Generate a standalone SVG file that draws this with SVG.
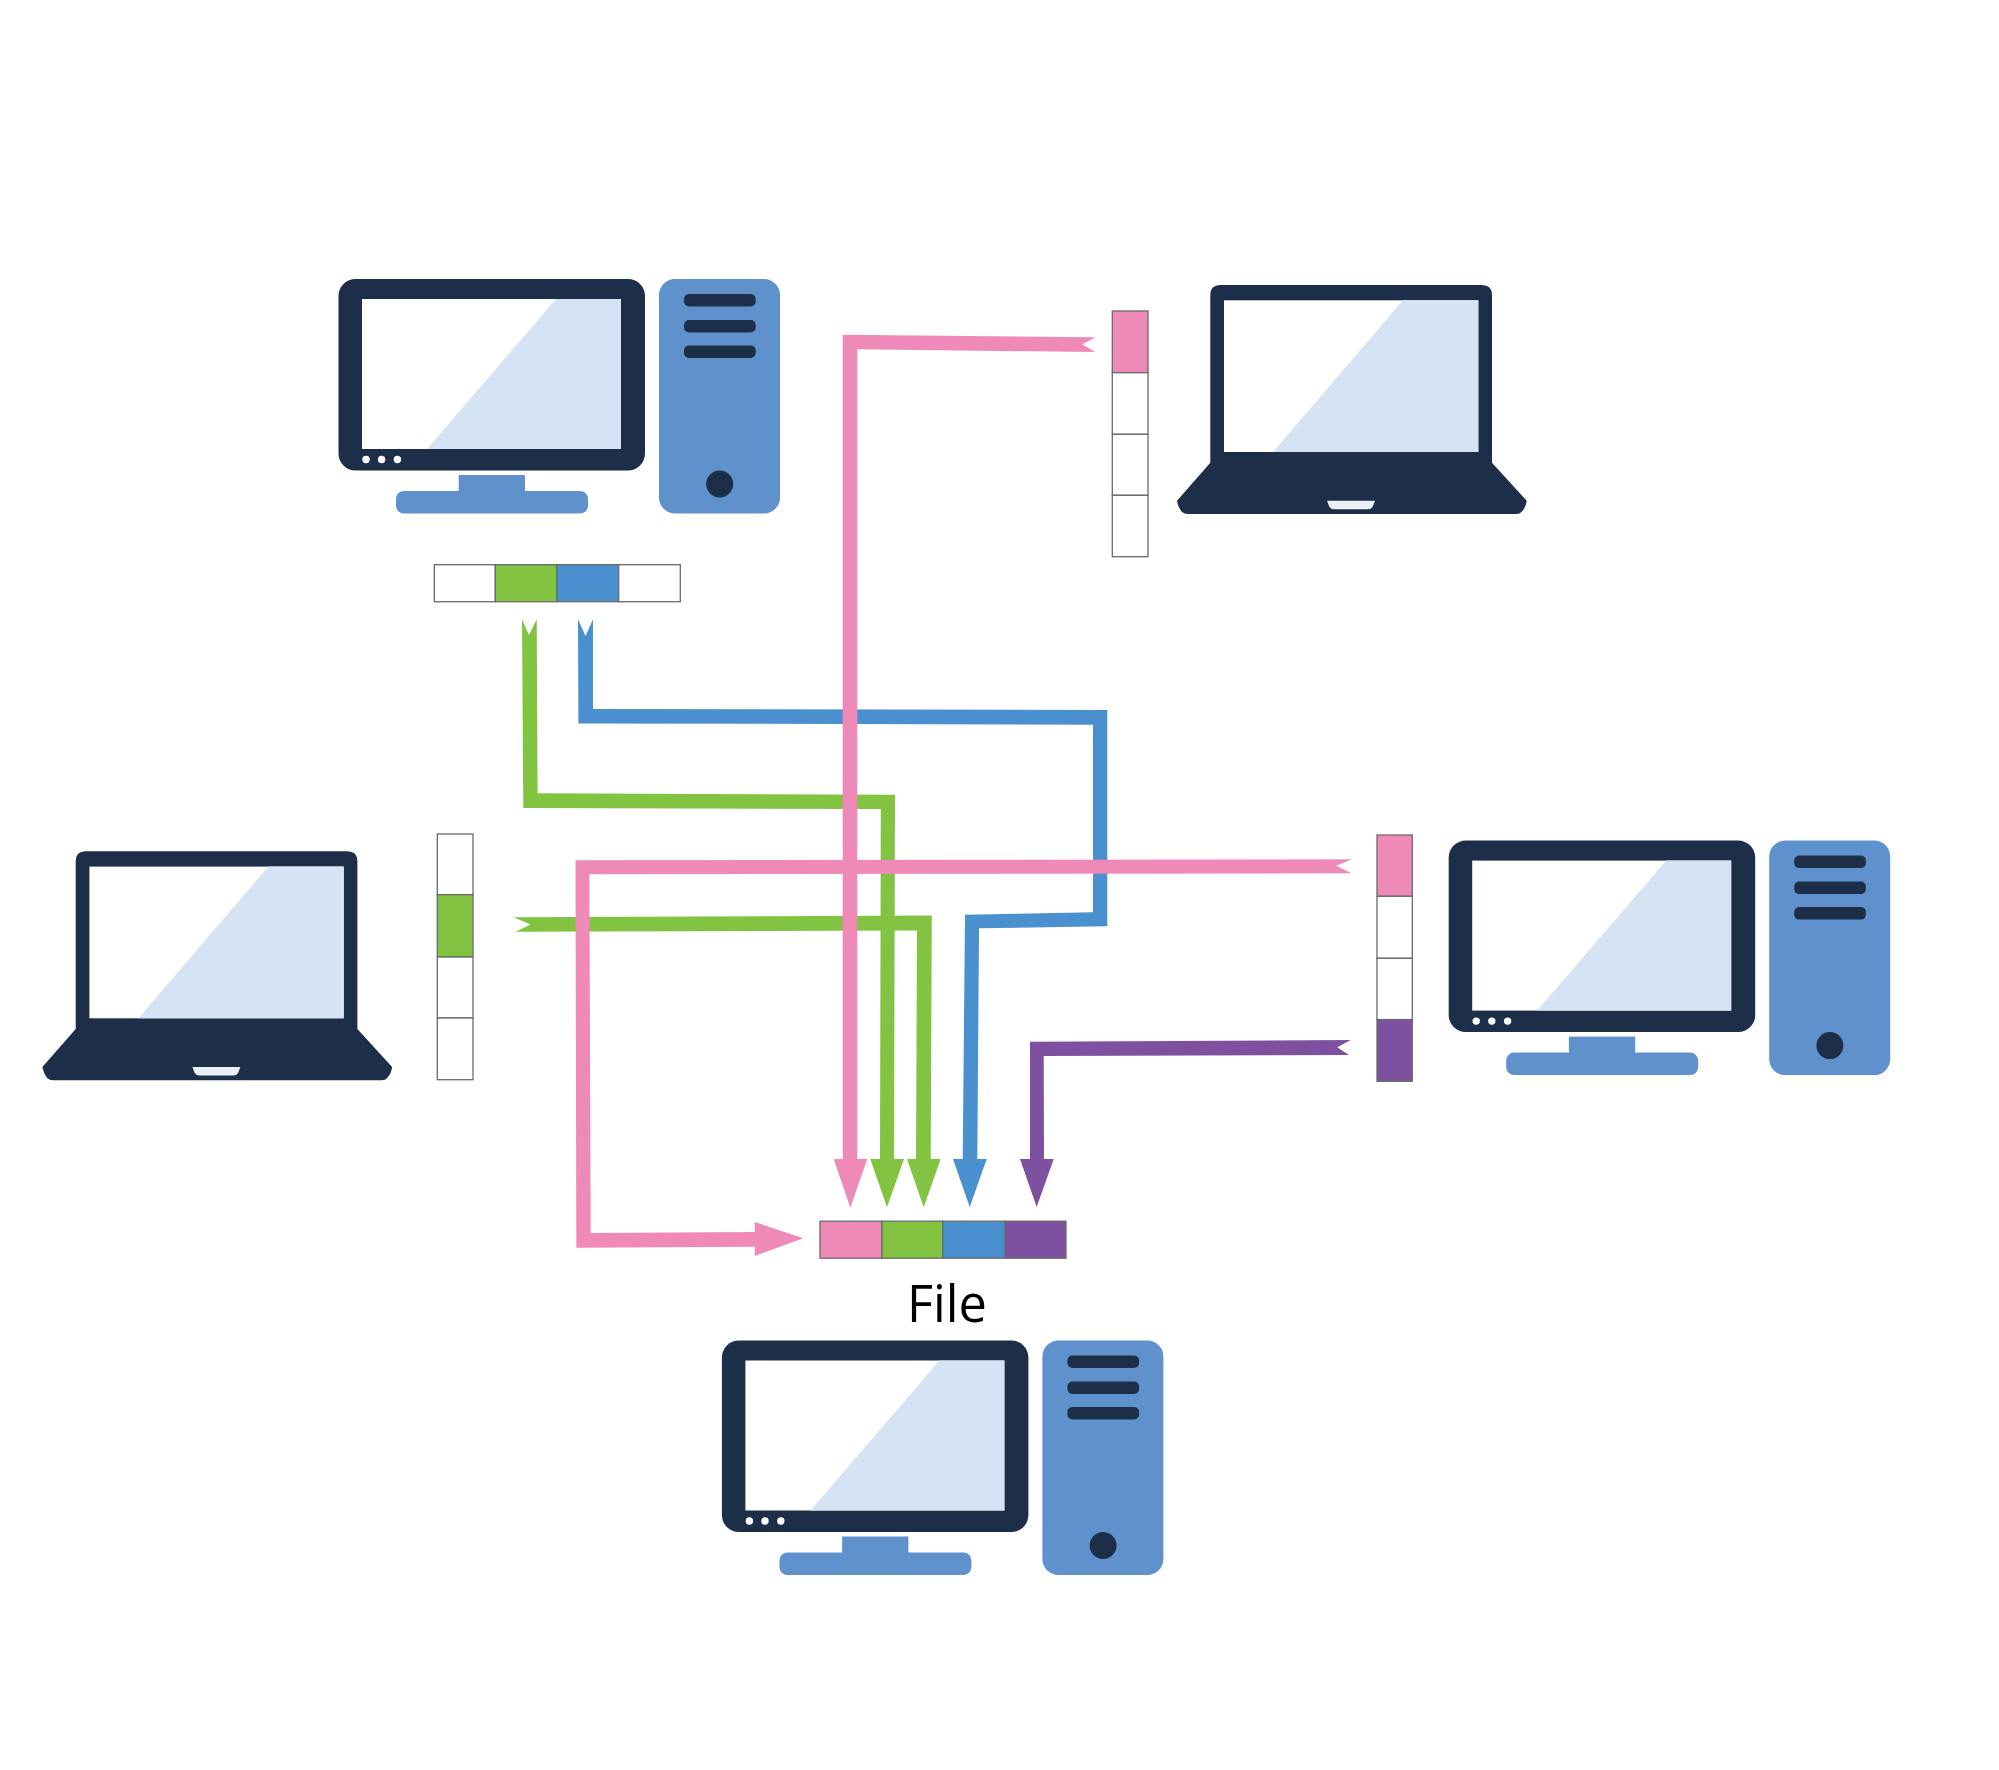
<svg xmlns="http://www.w3.org/2000/svg" xmlns:xlink="http://www.w3.org/1999/xlink" width="1999" height="1770" viewBox="0 0 1999 1770">
<style>
.dark{fill:#1d2f48}
.mid{fill:#5f92cd}
.scr{fill:#fff}
.gl{fill:#d4e4f4}
.dot{fill:#fff}
.cell{stroke:#6a6a6a;stroke-width:1.3}
.e{fill:#fff}
.p{fill:#ef8ab8}
.g{fill:#82c341}
.b{fill:#4a8fce}
.v{fill:#7d51a0}
.label{font-family:"Open Sans","Liberation Sans",sans-serif;font-size:50.5px;fill:#000}
</style>
<defs>
<g id="computer">
<rect class="mid" x="458.7" y="475" width="66.3" height="20"/>
<rect class="mid" x="396" y="491" width="192" height="22.5" rx="8"/>
<rect class="dark" x="338.5" y="279" width="306.5" height="191.5" rx="17"/>
<rect class="scr" x="362" y="299" width="259" height="150"/>
<polygon class="gl" points="556,299 621,299 621,449 427,449"/>
<circle class="dot" cx="366" cy="459.5" r="3.7"/>
<circle class="dot" cx="381.6" cy="459.5" r="3.7"/>
<circle class="dot" cx="397.4" cy="459.5" r="3.7"/>
<rect class="mid" x="659" y="279" width="121" height="234.5" rx="16"/>
<rect class="dark" x="684" y="294" width="71.7" height="12.5" rx="5"/>
<rect class="dark" x="684" y="320" width="71.7" height="12.5" rx="5"/>
<rect class="dark" x="684" y="345.5" width="71.7" height="12.5" rx="5"/>
<circle class="dark" cx="719.7" cy="484" r="13.5"/>
</g>
<g id="laptop">
<path class="dark" d="M1210.3 295Q1210.3 285 1220 285H1482Q1492 285 1492 295V462.7L1526.7 500.7Q1526 507 1522 511.5Q1520 514 1516 514H1188Q1184 514 1181.5 511.5Q1178 507 1177 500.7L1210.3 462.7Z"/>
<rect class="scr" x="1224" y="300.3" width="254.3" height="151.7"/>
<polygon class="gl" points="1403,300.3 1478.3,300.3 1478.3,452 1273,452"/>
<path fill="#eaf0f6" d="M1327 500.7H1375L1373 506Q1371.5 509.3 1368 509.3H1334Q1330.5 509.3 1329 506Z"/>
</g>
</defs>

<g id="computer-top"><use href="#computer"/></g>
<g id="computer-right"><use href="#computer" transform="translate(1110.2,561.6)"/></g>
<g id="computer-bottom"><use href="#computer" transform="translate(383.4,1061.5)"/></g>
<g id="laptop-top"><use href="#laptop"/></g>
<g id="laptop-left"><use href="#laptop" transform="translate(-1134.6,566.3)"/></g>

<g id="strip-top">
<rect class="cell e" x="434.3" y="564.7" width="61" height="37"/>
<rect class="cell g" x="495.3" y="564.7" width="61.4" height="37"/>
<rect class="cell b" x="556.7" y="564.7" width="62" height="37"/>
<rect class="cell e" x="618.7" y="564.7" width="61.6" height="37"/>
</g>
<g id="strip-top-right">
<rect class="cell p" x="1112.3" y="311" width="35.7" height="61.7"/>
<rect class="cell e" x="1112.3" y="372.7" width="35.7" height="61.6"/>
<rect class="cell e" x="1112.3" y="434.3" width="35.7" height="61"/>
<rect class="cell e" x="1112.3" y="495.3" width="35.7" height="61.4"/>
</g>
<g id="strip-left">
<rect class="cell e" x="437.3" y="834" width="35.7" height="60.7"/>
<rect class="cell g" x="437.3" y="894.7" width="35.7" height="62.3"/>
<rect class="cell e" x="437.3" y="957" width="35.7" height="61"/>
<rect class="cell e" x="437.3" y="1018" width="35.7" height="61.7"/>
</g>
<g id="strip-right">
<rect class="cell p" x="1377" y="835" width="35.3" height="61.3"/>
<rect class="cell e" x="1377" y="896.3" width="35.3" height="62"/>
<rect class="cell e" x="1377" y="958.3" width="35.3" height="61.3"/>
<rect class="cell v" x="1377" y="1019.6" width="35.3" height="61.7"/>
</g>
<g id="strip-file">
<rect class="cell p" x="820" y="1221.2" width="62" height="37"/>
<rect class="cell g" x="882" y="1221.2" width="60.7" height="37"/>
<rect class="cell b" x="942.7" y="1221.2" width="62.6" height="37"/>
<rect class="cell v" x="1005.3" y="1221.2" width="60.7" height="37"/>
</g>
<g id="file-label"><text class="label" x="907" y="1322">File</text></g>

<g id="connectors">
<polygon class="b" points="578,619.3 585.6,636 593,619.3 593,709 1107.3,710 1107.3,926.3 979,928.3 977.3,1159 986.7,1159 969.7,1207 953,1159 962.7,1159 965,914.7 1093,912.3 1093,724.7 578.4,723.4"/>
<polygon class="g" points="522,619.3 529,635 536.7,619.3 537.6,793.3 895,794.7 894,1159 904,1159 887,1207.3 870.3,1159 880,1159 880.8,809 523.3,808"/>
<polygon class="g" points="513.5,917.2 931.8,915.5 930.7,1159 940.7,1159 923.7,1207.3 907,1159 916,1159 917,930.5 515.5,931.8 530.6,924.5"/>
<polygon class="v" points="1350.7,1040 1337.3,1047.3 1349,1055 1043.7,1056 1044,1159 1053.7,1159 1036.7,1207 1020,1159 1030,1159 1030,1041.7"/>
<polygon class="p" points="1352.3,859.3 575.5,860.3 576.3,1247.7 754.7,1246.7 754.7,1256 803.3,1238.3 754.7,1222 754.7,1232 590.7,1233 589.4,874.3 1351.7,873.3 1336,865.7"/>
<polygon class="p" points="1095.7,337.3 842.7,334.7 842.7,1159 833.7,1159 850.3,1207.7 867.3,1159 857.3,1159 857.3,349.3 1095,352 1082.3,344.3"/>
</g>
</svg>
